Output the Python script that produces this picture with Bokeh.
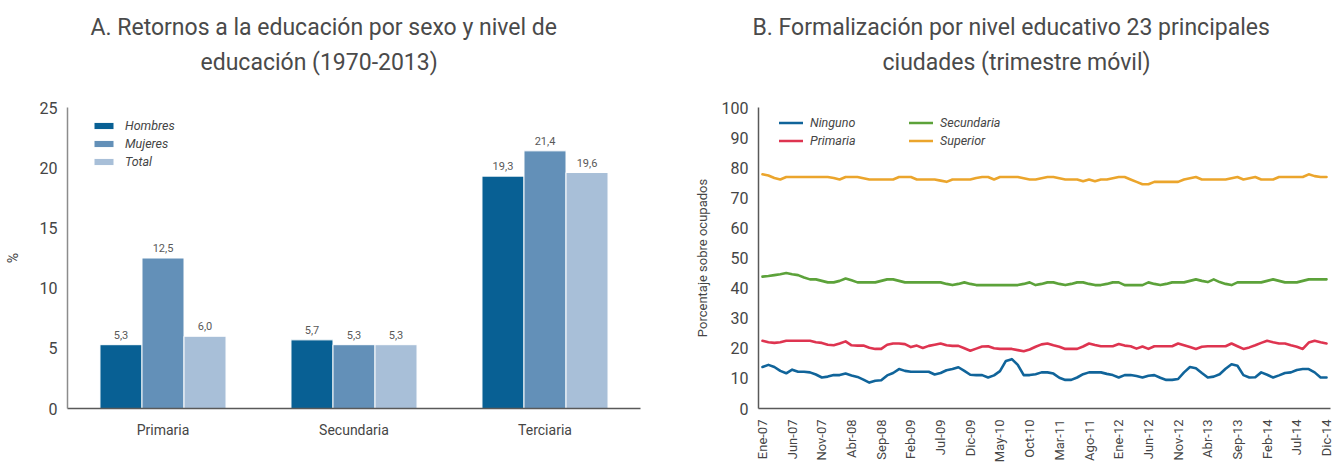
from bokeh.plotting import figure
from bokeh.layouts import row
from bokeh.models import (ColumnDataSource, FactorRange, Range1d, Legend, LegendItem,
                          FixedTicker, Title)
from bokeh.core.properties import value
from bokeh.transform import dodge
from bokeh.embed import file_html
from bokeh.resources import INLINE

# ---------------- Panel A data ----------------
categorias = ["Primaria", "Secundaria", "Terciaria"]
hombres = [5.3, 5.7, 19.3]
mujeres = [12.5, 5.3, 21.4]
total = [6.0, 5.3, 19.6]

# ---------------- Panel B data ----------------
meses_abr = ["Ene", "Feb", "Mar", "Abr", "May", "Jun", "Jul", "Ago", "Sep", "Oct", "Nov", "Dic"]
anios = ["07", "08", "09", "10", "11", "12", "13", "14"]
periodos = [m + "-" + a for a in anios for m in meses_abr]

ninguno = [13.8, 14.5, 13.8, 12.5, 11.7, 12.9, 12.2, 12.2, 12.0, 11.3,
           10.3, 10.6, 11.1, 11.1, 11.6, 11.0, 10.5, 9.6, 8.6, 9.2,
           9.4, 11.0, 11.8, 13.1, 12.5, 12.2, 12.2, 12.2, 12.2, 11.3,
           11.8, 12.7, 13.1, 13.7, 12.5, 11.2, 11.1, 11.1, 10.3, 11.0,
           12.4, 15.8, 16.4, 14.5, 11.1, 11.1, 11.4, 12.0, 12.0, 11.6,
           10.2, 9.5, 9.5, 10.3, 11.4, 12.0, 12.0, 12.0, 11.5, 11.1,
           10.3, 11.1, 11.1, 10.8, 10.3, 10.9, 11.1, 10.2, 9.5, 9.5,
           9.8, 12.0, 13.8, 13.4, 11.8, 10.3, 10.6, 11.4, 13.2, 14.7,
           14.2, 11.1, 10.3, 10.4, 12.0, 11.2, 10.3, 11.0, 11.8, 12.0,
           12.8, 13.1, 13.1, 12.0, 10.3, 10.3]

primaria = [22.5, 22.0, 21.8, 22.0, 22.5, 22.5, 22.5, 22.5, 22.5, 22.0,
            21.8, 21.2, 21.0, 21.6, 22.3, 21.0, 20.9, 20.9, 20.2, 19.8,
            19.8, 21.2, 21.6, 21.6, 21.4, 20.4, 20.9, 20.1, 20.8, 21.2,
            21.6, 21.0, 20.8, 20.8, 20.0, 19.2, 19.9, 20.6, 20.7, 20.0,
            19.8, 19.8, 19.8, 19.4, 19.0, 19.6, 20.5, 21.3, 21.6, 21.0,
            20.5, 19.8, 19.8, 19.8, 20.6, 21.6, 21.1, 20.7, 20.7, 20.7,
            21.4, 20.9, 20.7, 19.9, 20.6, 19.8, 20.7, 20.7, 20.7, 20.7,
            21.6, 21.0, 20.4, 19.8, 20.5, 20.7, 20.7, 20.7, 20.7, 21.6,
            20.7, 19.8, 20.3, 21.0, 21.8, 22.5, 22.0, 21.6, 21.6, 21.0,
            20.5, 19.8, 21.9, 22.5, 22.0, 21.6]

secundaria = [43.8, 44.0, 44.3, 44.6, 45.0, 44.6, 44.3, 43.5, 42.9, 42.9,
              42.4, 41.9, 41.9, 42.4, 43.2, 42.6, 41.9, 41.9, 41.9, 41.9,
              42.4, 42.9, 42.9, 42.4, 41.9, 41.9, 41.9, 41.9, 41.9, 41.9,
              41.9, 41.4, 41.0, 41.4, 41.9, 41.4, 41.0, 41.0, 41.0, 41.0,
              41.0, 41.0, 41.0, 41.0, 41.4, 41.9, 41.0, 41.4, 41.9, 41.9,
              41.4, 41.0, 41.4, 41.9, 41.9, 41.4, 41.0, 41.0, 41.4, 41.9,
              41.9, 41.0, 41.0, 41.0, 41.0, 41.9, 41.4, 41.0, 41.4, 41.9,
              41.9, 41.9, 42.4, 42.9, 42.4, 42.0, 42.9, 42.0, 41.4, 41.0,
              41.9, 41.9, 41.9, 41.9, 41.9, 42.4, 42.9, 42.4, 41.9, 41.9,
              41.9, 42.4, 42.9, 42.9, 42.9, 42.9]

superior = [77.8, 77.4, 76.6, 76.1, 76.9, 76.9, 76.9, 76.9, 76.9, 76.9,
            76.9, 76.9, 76.6, 76.1, 76.9, 76.9, 76.9, 76.5, 76.1, 76.1,
            76.1, 76.1, 76.1, 76.9, 76.9, 76.9, 76.1, 76.1, 76.1, 76.1,
            75.7, 75.3, 76.1, 76.1, 76.1, 76.1, 76.6, 76.9, 76.9, 76.1,
            76.9, 76.9, 76.9, 76.9, 76.5, 76.1, 76.1, 76.5, 76.9, 76.9,
            76.5, 76.1, 76.1, 76.1, 75.5, 76.1, 75.5, 76.1, 76.1, 76.5,
            76.9, 76.9, 76.1, 75.3, 74.5, 74.5, 75.3, 75.3, 75.3, 75.3,
            75.3, 76.1, 76.5, 76.9, 76.1, 76.1, 76.1, 76.1, 76.1, 76.5,
            76.9, 76.1, 76.5, 76.9, 76.1, 76.1, 76.1, 76.9, 76.9, 76.9,
            76.9, 76.9, 77.8, 77.2, 76.9, 76.9]

titulo_a = ["A. Retornos a la educación por sexo y nivel de", "educación (1970-2013)"]
titulo_b = ["B. Formalización por nivel educativo 23 principales", "ciudades (trimestre móvil)"]

FONT = "Roboto"
TXT = "#454545"
H = 467
TOP = 107
BOTTOM = 59
FRAME_H = H - TOP - BOTTOM

# ---------------- Panel A ----------------
srcA = ColumnDataSource(dict(
    cat=categorias, h=hombres, m=mujeres, t=total,
    hl=[f"{v:.1f}".replace(".", ",") for v in hombres],
    ml=[f"{v:.1f}".replace(".", ",") for v in mujeres],
    tl=[f"{v:.1f}".replace(".", ",") for v in total],
))

WA, LA, RA = 688, 67, 48
pA = figure(x_range=FactorRange(*categorias), y_range=Range1d(0, 25), title=None,
            width=WA, height=H, output_backend="svg", toolbar_location=None,
            min_border_left=LA, min_border_right=RA, min_border_top=TOP, min_border_bottom=BOTTOM)

bw = 0.22
colA = ["#086094", "#6390b8", "#a8bfd8"]
rA = []
for off, key, lab, col in [(-bw, "h", "hl", colA[0]), (0.0, "m", "ml", colA[1]), (bw, "t", "tl", colA[2])]:
    r = pA.vbar(x=dodge("cat", off, range=pA.x_range), top=key, width=bw, source=srcA,
                fill_color=col, line_color="white", line_width=1)
    rA.append(r)
    pA.text(x=dodge("cat", off, range=pA.x_range), y=key, text=lab, source=srcA,
            text_align="center", text_baseline="bottom", y_offset=-6,
            text_font_size="11px", text_color="#595959", text_font=value(FONT))

legA = Legend(items=[LegendItem(label="Hombres", renderers=[rA[0]]),
                     LegendItem(label="Mujeres", renderers=[rA[1]]),
                     LegendItem(label="Total", renderers=[rA[2]])],
              location=(24, FRAME_H - 9 - 54), orientation="vertical",
              glyph_width=25, glyph_height=9, label_height=18, spacing=0, padding=0,
              label_standoff=9, label_text_font_size="12.5px", label_text_font_style="italic",
              label_text_color=TXT, label_text_font=FONT,
              background_fill_alpha=0, border_line_color=None)
pA.add_layout(legA)

pA.yaxis.ticker = FixedTicker(ticks=[0, 5, 10, 15, 20, 25])
pA.yaxis.axis_label = "%"
pA.yaxis.axis_label_standoff = 16
pA.yaxis.axis_label_text_font_size = "14px"
pA.yaxis.axis_label_text_font_style = "normal"
pA.yaxis.axis_label_text_color = TXT
pA.yaxis.axis_label_text_font = FONT
pA.xaxis.major_label_text_font_size = "14px"
pA.xaxis.major_label_standoff = 13

# ---------------- Panel B ----------------
srcB = ColumnDataSource(dict(x=list(range(len(periodos))), per=periodos,
                             n=ninguno, p=primaria, s=secundaria, u=superior))

WB, LB, RB = 1334 - WA, 70, 4
XB0, XB1 = -0.67, 95.67
pB = figure(x_range=Range1d(XB0, XB1), y_range=Range1d(0, 100), title=None,
            width=WB, height=H, output_backend="svg", toolbar_location=None,
            min_border_left=LB, min_border_right=RB, min_border_top=TOP, min_border_bottom=BOTTOM)

colB = {"n": "#10649a", "p": "#de3450", "s": "#5ca23a", "u": "#eba52c"}
rB = {}
for key in ["n", "p", "s", "u"]:
    rB[key] = pB.line(x="x", y=key, source=srcB, line_color=colB[key], line_width=2.6,
                      line_join="round", line_cap="round")

legB = Legend(items=[LegendItem(label="Ninguno", renderers=[rB["n"]]),
                     LegendItem(label="Primaria", renderers=[rB["p"]]),
                     LegendItem(label="Secundaria", renderers=[rB["s"]]),
                     LegendItem(label="Superior", renderers=[rB["u"]])],
              location=(21, FRAME_H - 6 - 36), orientation="vertical", nrows=2,
              glyph_width=24, glyph_height=9, label_height=18, label_width=99,
              spacing=0, padding=0,
              label_standoff=7, label_text_font_size="12.5px", label_text_font_style="italic",
              label_text_color=TXT, label_text_font=FONT,
              background_fill_alpha=0, border_line_color=None)
pB.add_layout(legB)

tick_idx = list(range(0, len(periodos), 5))
pB.xaxis.ticker = FixedTicker(ticks=tick_idx)
pB.xaxis.major_label_overrides = {i: periodos[i] for i in tick_idx}
pB.xaxis.major_label_orientation = 3.14159265 / 2
pB.xaxis.major_label_text_font_size = "13px"
pB.xaxis.major_label_standoff = 11
pB.yaxis.ticker = FixedTicker(ticks=list(range(0, 101, 10)))
pB.yaxis.axis_label = "Porcentaje sobre ocupados"
pB.yaxis.axis_label_standoff = 9
pB.yaxis.axis_label_text_font_size = "13px"
pB.yaxis.axis_label_text_font_style = "normal"
pB.yaxis.axis_label_text_color = TXT
pB.yaxis.axis_label_text_font = FONT

# ---------------- Titles: two lines stacked above each frame ----------------
# line 2 sits closest to the frame (large standoff keeps the gap to the frame);
# line 1 uses a negative standoff so it sits just above line 2.
def add_titles(p, lines, offsets):
    p.add_layout(Title(text=lines[1], align="left", offset=offsets[1], standoff=63,
                       text_font_size="23px", text_font_style="normal",
                       text_color="#4a4a4a", text_font=FONT), "above")
    p.add_layout(Title(text=lines[0], align="left", offset=offsets[0], standoff=-51,
                       text_font_size="23px", text_font_style="normal",
                       text_color="#4a4a4a", text_font=FONT), "above")

add_titles(pA, titulo_a, [23, 133])
add_titles(pB, titulo_b, [-6, 124])

# ---------------- Common style ----------------
for p in (pA, pB):
    p.xgrid.visible = False
    p.ygrid.visible = False
    p.outline_line_color = None
    p.background_fill_color = "white"
    p.border_fill_color = "white"
    for ax in (p.xaxis[0], p.yaxis[0]):
        ax.major_tick_line_color = None
        ax.minor_tick_line_color = None
        ax.major_tick_out = 0
        ax.major_tick_in = 0
        ax.minor_tick_out = 0
        ax.minor_tick_in = 0
        ax.major_label_text_color = TXT
        ax.major_label_text_font = FONT
        ax.axis_line_width = 1.5
    p.yaxis.major_label_text_font_size = "16px"
    p.yaxis.major_label_standoff = 10
    p.xaxis.axis_line_color = "#595959"

pA.yaxis.axis_line_color = "#8c8c8c"
pB.yaxis.axis_line_color = "#595959"

layout = row(pA, pB)
open("out.html", "w").write(file_html(layout, INLINE))
